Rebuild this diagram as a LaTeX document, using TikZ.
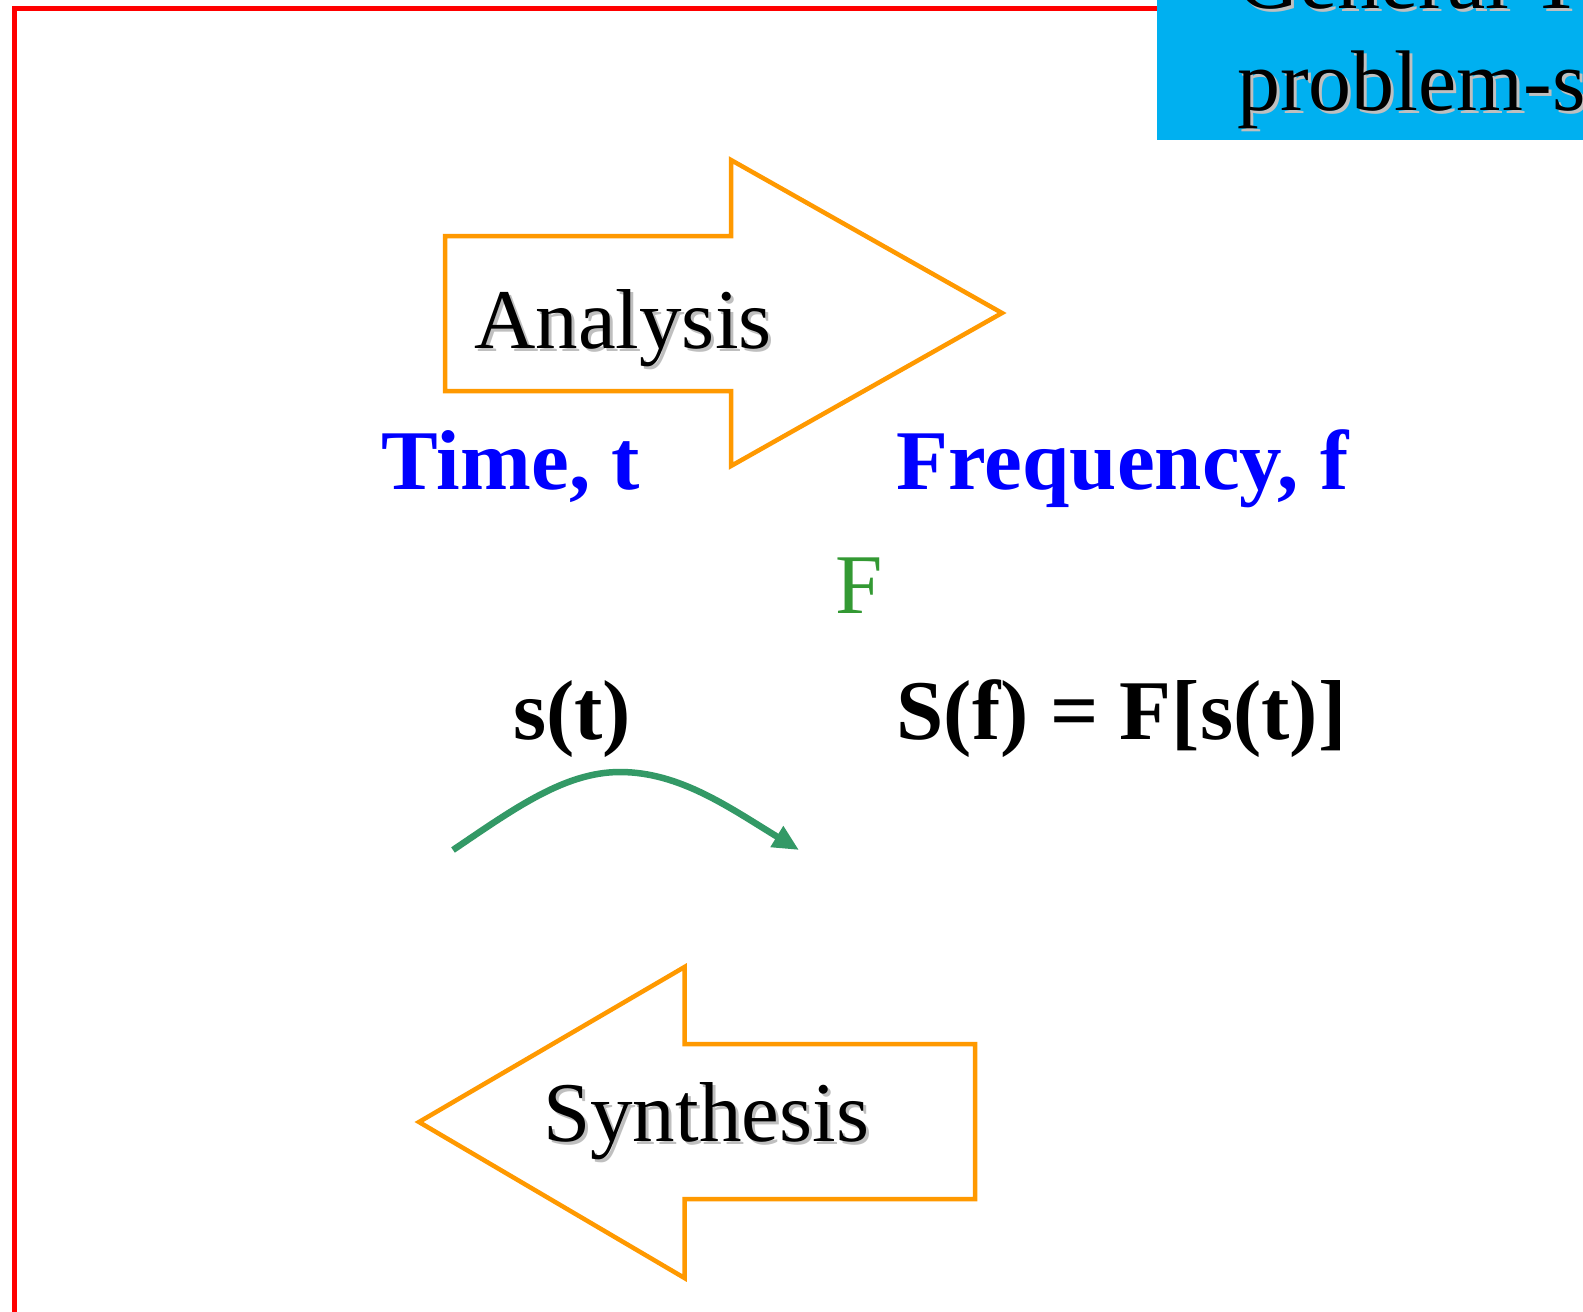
\documentclass[tikz,border=0pt]{standalone}
\usepackage{fontspec}
\setmainfont{Liberation Serif}
\usetikzlibrary{arrows.meta}
\definecolor{framered}{HTML}{FF0000}
\definecolor{titlecyan}{HTML}{00B0F0}
\definecolor{arroworange}{HTML}{FF9900}
\definecolor{labelblue}{HTML}{0000FF}
\definecolor{fgreen}{HTML}{339933}
\definecolor{curvegreen}{HTML}{339966}
\newcommand\shtext[1]{\makebox[0pt][l]{\raisebox{-3pt}{\hspace{3pt}\textcolor{black!25}{#1}}}#1}
\tikzset{
  big/.style={font=\fontsize{85}{85}\selectfont, inner sep=0pt, anchor=base west},
  bigbold/.style={big, font=\fontsize{85}{85}\selectfont\bfseries},
  titletext/.style={font=\fontsize{86}{86}\selectfont, inner sep=0pt, anchor=base west},
  bigarrow/.style={draw=arroworange, line width=4.5pt, line join=miter, fill=white},
}
\begin{document}
\begin{tikzpicture}[x=1pt,y=-1pt]
\useasboundingbox[fill=white] (0,0) rectangle (1583,1312);
% red frame
\draw[framered, line width=5pt] (14.5,1320) -- (14.5,8.5) -- (1160,8.5);
% title box
\fill[titlecyan] (1157,-2) rectangle (1585,140);
\begin{scope}
\clip (1157,0) rectangle (1583,140);
\node[titletext] (title1) at (1237,8) {\shtext{General Th}};
\node[titletext] (title2) at (1237,110) {\shtext{problem-s}};
\end{scope}
% analysis arrow
\draw[bigarrow] (445,236) -- (731,236) -- (731,160) -- (1002,313) -- (731,466) -- (731,391) -- (445,391) -- cycle;
\node[big] (analysis) at (474,348) {\shtext{Analysis}};
% synthesis arrow
\draw[bigarrow] (975,1044) -- (684.5,1044) -- (684.5,967) -- (419,1122) -- (684.5,1278) -- (684.5,1199) -- (975,1199) -- cycle;
\node[big] (synthesis) at (543,1141) {\shtext{Synthesis}};
% labels
\node[bigbold, text=labelblue] (time) at (381.5,489.5) {Time, t};
\node[bigbold, text=labelblue] (freq) at (896.5,489.5) {Frequency, f};
\node[big, text=fgreen] (fop) at (835,613) {F};
\node[bigbold] (st) at (513,739) {s(t)};
\node[bigbold] (sf) at (896.5,739) {S(f) = F[s(t)]};
% curved arrow
\coordinate (cstart) at (453,850);
\coordinate (cpeak) at (620,772);
\coordinate (cend) at (799,850);
\draw[curvegreen, line width=6.5pt, -{Triangle[length=26pt,width=23pt]}]
  (cstart) .. controls (515,808) and (565,772) .. (cpeak)
  .. controls (680,772) and (730,808) .. (cend);
\end{tikzpicture}
\end{document}
